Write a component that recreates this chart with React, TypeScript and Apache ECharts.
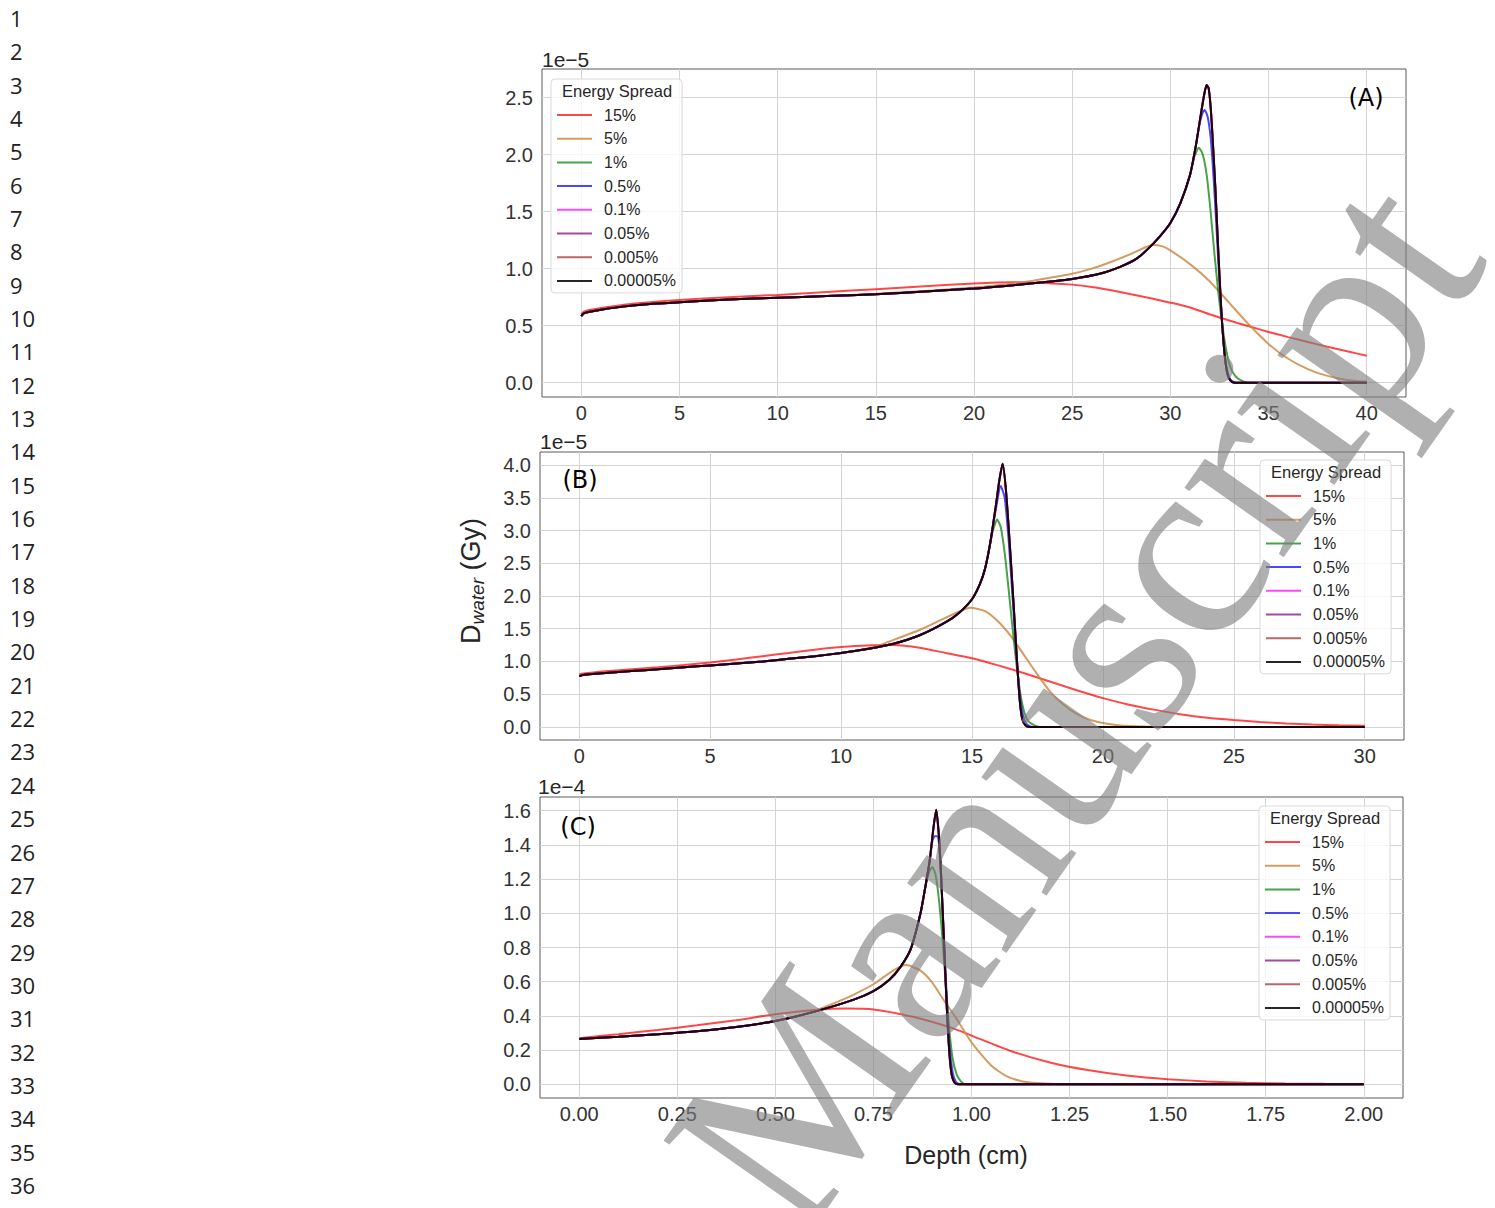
import React, { useEffect, useRef } from 'react';
import * as echarts from 'echarts';

type Pt = [number, number];

// legend entries (energy spread) and their colours
const spreadNames = ['15%', '5%', '1%', '0.5%', '0.1%', '0.05%', '0.005%', '0.00005%'];
const spreadColors = [
  'rgba(255,0,0,0.72)',
  'rgba(205,133,63,0.82)',
  'rgba(0,128,0,0.72)',
  'rgba(0,0,255,0.72)',
  'rgba(255,0,255,0.72)',
  'rgba(128,0,128,0.72)',
  'rgba(165,42,42,0.72)',
  'rgba(0,0,0,0.85)',
];

// ---- panel (A): depth (cm), dose (x1e-5 Gy) ----
const riseA: Pt[] = [
  [0, 0.585], [0.15, 0.61], [0.5, 0.625], [1, 0.64], [2, 0.665], [3.5, 0.69], [5, 0.705],
  [7.5, 0.73], [10, 0.745], [12.5, 0.76], [15, 0.775], [17.5, 0.8], [20, 0.825], [22, 0.855],
  [23.5, 0.88], [25, 0.91], [26.5, 0.96], [27.5, 1.02], [28.3, 1.09], [28.9, 1.18],
  [29.5, 1.29], [30, 1.4], [30.5, 1.57], [31, 1.82],
];
const peakA0: Pt[] = [
  [31.3, 2.08], [31.55, 2.35], [31.75, 2.55], [31.85, 2.61], [31.95, 2.58], [32.05, 2.42],
  [32.15, 2.15], [32.3, 1.68], [32.45, 1.12], [32.6, 0.62], [32.75, 0.27], [32.9, 0.08],
  [33.05, 0.02], [33.25, 0], [40, 0],
];
const peakA05: Pt[] = [
  [31.3, 2.08], [31.5, 2.28], [31.65, 2.37], [31.75, 2.39], [31.9, 2.33], [32.05, 2.15],
  [32.2, 1.8], [32.35, 1.35], [32.5, 0.88], [32.65, 0.48], [32.8, 0.2], [32.95, 0.07],
  [33.1, 0.02], [33.35, 0], [40, 0],
];
const peakA1: Pt[] = [
  [31.2, 1.97], [31.45, 2.06], [31.65, 2.0], [31.85, 1.82], [32.05, 1.5], [32.25, 1.12],
  [32.45, 0.78], [32.65, 0.5], [32.85, 0.28], [33.05, 0.14], [33.3, 0.06], [33.6, 0.02],
  [34, 0], [40, 0],
];
const doseA5: Pt[] = [
  [0, 0.585], [0.15, 0.61], [0.5, 0.625], [1, 0.64], [2, 0.665], [3.5, 0.69], [5, 0.705],
  [7.5, 0.73], [10, 0.745], [12.5, 0.76], [15, 0.78], [17.5, 0.805], [20, 0.835], [22, 0.87],
  [23, 0.895], [24, 0.925], [25, 0.955], [26, 1.0], [27, 1.06], [28, 1.13], [28.7, 1.185],
  [29.1, 1.207], [29.6, 1.195], [30, 1.16], [31, 1.04], [32, 0.89], [33, 0.7], [34, 0.51],
  [35, 0.34], [36, 0.21], [37, 0.12], [38, 0.06], [39, 0.025], [40, 0.01],
];
const doseA15: Pt[] = [
  [0, 0.6], [0.15, 0.625], [0.5, 0.64], [1, 0.655], [2, 0.68], [3.5, 0.705], [5, 0.725],
  [7.5, 0.75], [10, 0.77], [12.5, 0.795], [15, 0.82], [17.5, 0.845], [20, 0.87], [22, 0.88],
  [23.5, 0.875], [25, 0.86], [26, 0.84], [27, 0.81], [28, 0.775], [29, 0.74], [30, 0.702],
  [31, 0.66], [32, 0.6], [33, 0.545], [34, 0.495], [35, 0.445], [36, 0.4], [37, 0.357],
  [38, 0.316], [39, 0.276], [40, 0.237],
];

// ---- panel (B): depth (cm), dose (x1e-5 Gy) ----
const riseB: Pt[] = [
  [0, 0.775], [0.15, 0.795], [0.5, 0.81], [1, 0.825], [2, 0.855], [3, 0.88], [4, 0.91],
  [5, 0.94], [6, 0.97], [7, 1.0], [8, 1.04], [9, 1.08], [10, 1.13], [11, 1.19], [12, 1.27],
  [13, 1.4], [14, 1.6], [14.5, 1.74], [15, 1.95], [15.3, 2.18], [15.5, 2.42],
];
const peakB0: Pt[] = [
  [15.7, 2.82], [15.9, 3.35], [16.05, 3.78], [16.17, 4.02], [16.3, 3.6], [16.45, 2.75],
  [16.6, 1.8], [16.72, 1.0], [16.82, 0.42], [16.92, 0.12], [17.05, 0.02], [17.2, 0], [30, 0],
];
const peakB05: Pt[] = [
  [15.7, 2.82], [15.9, 3.3], [16.1, 3.68], [16.25, 3.5], [16.4, 2.85], [16.55, 1.98],
  [16.7, 1.1], [16.82, 0.5], [16.95, 0.17], [17.1, 0.04], [17.3, 0], [30, 0],
];
const peakB1: Pt[] = [
  [15.65, 2.7], [15.8, 3.0], [15.96, 3.17], [16.1, 3.05], [16.25, 2.65], [16.4, 2.1],
  [16.55, 1.5], [16.7, 0.95], [16.85, 0.5], [17.0, 0.22], [17.15, 0.09], [17.35, 0.03],
  [17.6, 0], [30, 0],
];
const doseB5: Pt[] = [
  [0, 0.775], [0.15, 0.795], [0.5, 0.81], [1, 0.825], [2, 0.855], [3, 0.88], [4, 0.91],
  [5, 0.94], [6, 0.97], [7, 1.0], [8, 1.04], [9, 1.08], [10, 1.13], [11, 1.2], [11.5, 1.25],
  [12, 1.33], [13, 1.48], [14, 1.67], [14.5, 1.76], [14.94, 1.82], [15.5, 1.77], [16, 1.61],
  [16.5, 1.38], [17, 1.09], [17.5, 0.8], [18, 0.53], [18.5, 0.34], [19, 0.2], [19.5, 0.11],
  [20, 0.06], [20.5, 0.03], [21, 0.012], [22, 0], [30, 0],
];
const doseB15: Pt[] = [
  [0, 0.8], [0.15, 0.815], [1, 0.85], [2, 0.88], [3, 0.91], [4, 0.945], [5, 0.985], [6, 1.03],
  [7, 1.08], [8, 1.13], [9, 1.18], [10, 1.22], [11, 1.245], [12, 1.25], [13, 1.21], [14, 1.13],
  [15, 1.05], [16, 0.94], [17, 0.82], [18, 0.69], [19, 0.56], [20, 0.44], [21, 0.34],
  [22, 0.26], [23, 0.19], [24, 0.14], [25, 0.105], [26, 0.075], [27, 0.052], [28, 0.036],
  [29, 0.025], [30, 0.018],
];

// ---- panel (C): depth (cm), dose (x1e-4 Gy) ----
const riseC: Pt[] = [
  [0, 0.265], [0.1, 0.278], [0.2, 0.293], [0.3, 0.31], [0.4, 0.335], [0.5, 0.37], [0.6, 0.425],
  [0.7, 0.495], [0.75, 0.545], [0.79, 0.61], [0.82, 0.69], [0.845, 0.79], [0.87, 1.0],
  [0.882, 1.15],
];
const peakC0: Pt[] = [
  [0.893, 1.3], [0.903, 1.5], [0.91, 1.605], [0.917, 1.45], [0.923, 1.2], [0.93, 0.82],
  [0.937, 0.45], [0.944, 0.17], [0.95, 0.05], [0.957, 0.01], [0.965, 0], [2, 0],
];
const peakC05: Pt[] = [
  [0.893, 1.3], [0.9, 1.42], [0.906, 1.45], [0.914, 1.45], [0.92, 1.3], [0.928, 0.95],
  [0.936, 0.55], [0.944, 0.22], [0.952, 0.07], [0.96, 0.015], [0.97, 0], [2, 0],
];
const peakC1: Pt[] = [
  [0.892, 1.24], [0.9, 1.27], [0.908, 1.23], [0.916, 1.1], [0.925, 0.88], [0.934, 0.6],
  [0.943, 0.33], [0.952, 0.15], [0.962, 0.06], [0.972, 0.02], [0.985, 0], [2, 0],
];
const doseC5: Pt[] = [
  [0, 0.265], [0.1, 0.278], [0.2, 0.293], [0.3, 0.31], [0.4, 0.335], [0.5, 0.37],
  [0.55, 0.395], [0.6, 0.43], [0.65, 0.475], [0.7, 0.525], [0.75, 0.585], [0.8, 0.665],
  [0.834, 0.697], [0.87, 0.665], [0.9, 0.595], [0.93, 0.49], [0.96, 0.39], [1.0, 0.245],
  [1.05, 0.11], [1.09, 0.047], [1.13, 0.017], [1.2, 0.003], [1.25, 0], [2, 0],
];
const doseC15: Pt[] = [
  [0, 0.27], [0.1, 0.293], [0.2, 0.318], [0.3, 0.345], [0.4, 0.375], [0.5, 0.41], [0.6, 0.435],
  [0.68, 0.443], [0.75, 0.438], [0.85, 0.395], [0.95, 0.33], [1.0, 0.285], [1.1, 0.195],
  [1.2, 0.128], [1.3, 0.082], [1.4, 0.05], [1.5, 0.03], [1.6, 0.017], [1.7, 0.009],
  [1.8, 0.005], [1.9, 0.003], [2.0, 0.002],
];

// series per panel in legend order (the smallest spreads overlap the 0.00005% curve)
const curvesA: Pt[][] = [
  doseA15, doseA5, [...riseA, ...peakA1], [...riseA, ...peakA05],
  [...riseA, ...peakA0], [...riseA, ...peakA0], [...riseA, ...peakA0], [...riseA, ...peakA0],
];
const curvesB: Pt[][] = [
  doseB15, doseB5, [...riseB, ...peakB1], [...riseB, ...peakB05],
  [...riseB, ...peakB0], [...riseB, ...peakB0], [...riseB, ...peakB0], [...riseB, ...peakB0],
];
const curvesC: Pt[][] = [
  doseC15, doseC5, [...riseC, ...peakC1], [...riseC, ...peakC05],
  [...riseC, ...peakC0], [...riseC, ...peakC0], [...riseC, ...peakC0], [...riseC, ...peakC0],
];

const panelLetters = ['(A)', '(B)', '(C)'];
const scaleTexts = ['1e\u22125', '1e\u22125', '1e\u22124'];
const lineNumbers = Array.from({ length: 36 }, (_, i) => String(i + 1));

const SANS = 'Liberation Sans';

const isMultiple = (v: number, step: number) => Math.abs(v / step - Math.round(v / step)) < 1e-6;
const tickLabel = (step: number, digits: number) => (v: number) =>
  isMultiple(v, step) ? (Math.abs(v) < 1e-9 ? 0 : v).toFixed(digits) : '';
const gridColors = (len: number, at: number) =>
  Array.from({ length: len }, (_, i) => (i === at ? '#d4d4d4' : 'rgba(0,0,0,0)'));

const App: React.FC = () => {
  const chartRef = useRef<HTMLDivElement>(null);

  useEffect(() => {
    if (!chartRef.current) return;
    const chart = echarts.init(chartRef.current, undefined, { renderer: 'svg' });

    const panels = [
      {
        grid: { left: 542, top: 69, width: 864, height: 328 },
        x: { min: -2, max: 42, interval: 1, step: 5, digits: 0, cycle: 5, at: 2 },
        y: { min: -0.125, max: 2.75, interval: 0.125, step: 0.5, digits: 1, cycle: 4, at: 1 },
        curves: curvesA,
        legend: { left: 551, top: 79 },
        letter: { x: 1366, y: 98 },
        scale: { x: 542, y: 59 },
      },
      {
        grid: { left: 540, top: 452, width: 864, height: 288 },
        x: { min: -1.5, max: 31.5, interval: 0.5, step: 5, digits: 0, cycle: 10, at: 3 },
        y: { min: -0.2, max: 4.2, interval: 0.1, step: 0.5, digits: 1, cycle: 5, at: 2 },
        curves: curvesB,
        legend: { left: 1260, top: 460 },
        letter: { x: 580, y: 480 },
        scale: { x: 540, y: 441 },
      },
      {
        grid: { left: 540, top: 797, width: 863, height: 301 },
        x: { min: -0.1, max: 2.1, interval: 0.05, step: 0.25, digits: 2, cycle: 5, at: 2 },
        y: { min: -0.08, max: 1.68, interval: 0.04, step: 0.2, digits: 1, cycle: 5, at: 2 },
        curves: curvesC,
        legend: { left: 1259, top: 806 },
        letter: { x: 578, y: 827 },
        scale: { x: 538, y: 786 },
      },
    ];

    const labelStyle = { fontSize: 20, color: '#333', fontFamily: SANS };

    const series: any[] = [];
    panels.forEach((p, pi) => {
      p.curves.forEach((data, si) => {
        series.push({
          type: 'line',
          name: spreadNames[si],
          xAxisIndex: pi,
          yAxisIndex: pi,
          data,
          showSymbol: false,
          symbol: 'none',
          smooth: 0.2,
          color: spreadColors[si],
          lineStyle: { width: 2, color: spreadColors[si] },
          emphasis: { disabled: true },
        });
      });
    });

    const graphic: any[] = [];
    panels.forEach((p, pi) => {
      graphic.push({
        type: 'text',
        x: p.legend.left + 11,
        y: p.legend.top + 12,
        z: 20,
        style: {
          text: 'Energy Spread',
          fontSize: 16.5,
          fontFamily: SANS,
          fill: '#262626',
          textAlign: 'left',
          textVerticalAlign: 'middle',
        },
      });
      graphic.push({
        type: 'text',
        x: p.letter.x,
        y: p.letter.y,
        z: 20,
        style: {
          text: panelLetters[pi],
          fontSize: 24,
          fontFamily: 'DejaVu Sans',
          fill: '#000',
          textAlign: 'center',
          textVerticalAlign: 'middle',
        },
      });
      graphic.push({
        type: 'text',
        x: p.scale.x,
        y: p.scale.y,
        z: 20,
        style: {
          text: scaleTexts[pi],
          fontSize: 21,
          fontFamily: SANS,
          fill: '#262626',
          textAlign: 'left',
          textVerticalAlign: 'middle',
        },
      });
    });

    graphic.push({
      type: 'text',
      x: 966,
      y: 1155,
      z: 20,
      style: {
        text: 'Depth (cm)',
        fontSize: 25,
        fontFamily: SANS,
        fill: '#262626',
        textAlign: 'center',
        textVerticalAlign: 'middle',
      },
    });

    graphic.push({
      type: 'text',
      x: 472,
      y: 581,
      rotation: Math.PI / 2,
      z: 20,
      style: {
        text: '{d|D}{s|water}{d| (Gy)}',
        textAlign: 'center',
        textVerticalAlign: 'middle',
        rich: {
          d: { fontSize: 27, fontFamily: SANS, fill: '#262626', lineHeight: 30, verticalAlign: 'top' },
          s: {
            fontSize: 19,
            fontFamily: SANS,
            fontStyle: 'italic',
            fill: '#262626',
            lineHeight: 14,
            verticalAlign: 'bottom',
          },
        },
      },
    });

    lineNumbers.forEach((t, i) => {
      graphic.push({
        type: 'text',
        x: 10,
        y: 18 + i * 33.34,
        style: {
          text: t,
          fontSize: 22,
          fontFamily: 'Open Sans',
          fill: '#222',
          textAlign: 'left',
          textVerticalAlign: 'middle',
        },
      });
    });

    // page watermark laid over the figure
    graphic.push({
      type: 'text',
      x: 728,
      y: 1195,
      rotation: (55 * Math.PI) / 180,
      z: 100,
      silent: true,
      style: {
        text: 'Manuscript',
        fontSize: 264,
        fontFamily: 'Liberation Serif',
        fill: 'rgba(128,128,128,0.62)',
        textAlign: 'left',
        textVerticalAlign: 'middle',
      },
    });

    chart.setOption({
      animation: false,
      backgroundColor: '#fff',
      grid: panels.map((p) => ({
        ...p.grid,
        show: true,
        borderColor: '#5a5a5a',
        borderWidth: 1,
        backgroundColor: 'rgba(0,0,0,0)',
        containLabel: false,
      })),
      xAxis: panels.map((p, pi) => ({
        type: 'value',
        gridIndex: pi,
        min: p.x.min,
        max: p.x.max,
        interval: p.x.interval,
        axisLine: { show: false },
        axisTick: { show: false },
        axisLabel: { ...labelStyle, margin: 6, formatter: tickLabel(p.x.step, p.x.digits) },
        splitLine: { show: true, lineStyle: { width: 1, color: gridColors(p.x.cycle, p.x.at) } },
      })),
      yAxis: panels.map((p, pi) => ({
        type: 'value',
        gridIndex: pi,
        min: p.y.min,
        max: p.y.max,
        interval: p.y.interval,
        axisLine: { show: false },
        axisTick: { show: false },
        axisLabel: { ...labelStyle, margin: 9, formatter: tickLabel(p.y.step, p.y.digits) },
        splitLine: { show: true, lineStyle: { width: 1, color: gridColors(p.y.cycle, p.y.at) } },
      })),
      legend: panels.map((p) => ({
        data: spreadNames,
        orient: 'vertical',
        left: p.legend.left,
        top: p.legend.top,
        icon: 'rect',
        itemWidth: 35,
        itemHeight: 2,
        itemGap: 5.7,
        itemStyle: { borderWidth: 0 },
        padding: [27, 6, 3, 6],
        backgroundColor: 'rgba(255,255,255,0.8)',
        borderColor: '#d9d9d9',
        borderWidth: 1,
        borderRadius: 4,
        selectedMode: false,
        textStyle: {
          fontSize: 16,
          fontFamily: SANS,
          color: '#262626',
          lineHeight: 18,
          padding: [0, 0, 0, 7],
        },
      })),
      series,
      graphic,
    });

    return () => {
      chart.dispose();
    };
  }, []);

  return (
    <div
      ref={chartRef}
      style={{ position: 'absolute', left: 0, top: 0, width: '1495px', height: '1208px' }}
    />
  );
};

export default App;
